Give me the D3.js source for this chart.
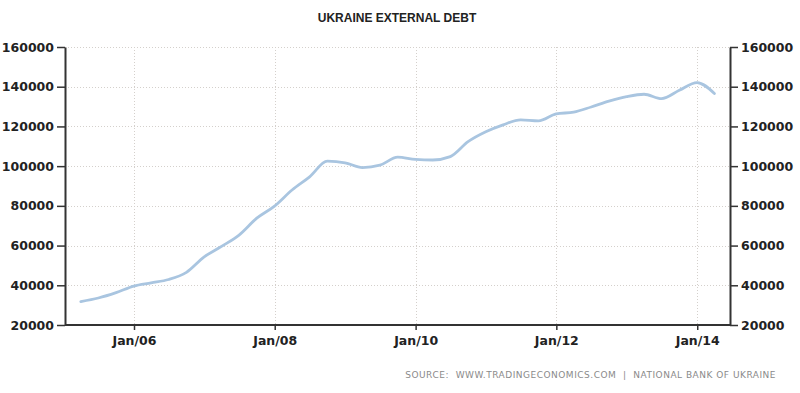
<!DOCTYPE html>
<html>
<head>
<meta charset="utf-8">
<script src="https://cdn.jsdelivr.net/npm/d3@7"></script>
<style>
  html, body { margin: 0; padding: 0; background: #fff; }
  svg { display: block; }
</style>
</head>
<body>
<div id="chart"></div>
<script>
// Ukraine external debt, USD million, quarter ends
const quarters = [
  '2005-03-31', '2005-06-30', '2005-09-30', '2005-12-31',
  '2006-03-31', '2006-06-30', '2006-09-30', '2006-12-31',
  '2007-03-31', '2007-06-30', '2007-09-30', '2007-12-31',
  '2008-03-31', '2008-06-30', '2008-09-30', '2008-12-31',
  '2009-03-31', '2009-06-30', '2009-09-30', '2009-12-31',
  '2010-03-31', '2010-06-30', '2010-09-30', '2010-12-31',
  '2011-03-31', '2011-06-30', '2011-09-30', '2011-12-31',
  '2012-03-31', '2012-06-30', '2012-09-30', '2012-12-31',
  '2013-03-31', '2013-06-30', '2013-09-30', '2013-12-31',
  '2014-03-31'
];
const debt = [
  31800, 33600, 36300, 39600,
  41200, 42900, 46500, 54300,
  59600, 65300, 73800, 79900,
  88000, 94600, 102500, 101700,
  99300, 100500, 104500, 103400,
  103100, 104800, 112300, 117300,
  120800, 123300, 122800, 126300,
  127200, 129800, 132700, 135000,
  136200, 134000, 138200, 142100,
  136600
];
const yTicks = [20000, 40000, 60000, 80000, 100000, 120000, 140000, 160000];
const xTickYears = [2006, 2008, 2010, 2012, 2014];

const title = 'UKRAINE EXTERNAL DEBT';
const source = 'SOURCE:  WWW.TRADINGECONOMICS.COM  |  NATIONAL BANK OF UKRAINE';

const W = 800, H = 393;
const m = { top: 47, right: 70, bottom: 68, left: 65 };
const parse = d3.timeParse('%Y-%m-%d');
const data = quarters.map((q, i) => ({ date: parse(q), value: debt[i] }));

const svg = d3.select('#chart').append('svg').attr('width', W).attr('height', H);

const x = d3.scaleTime()
  .domain([new Date(2005, 0, 8), new Date(2014, 5, 20)])
  .range([m.left, W - m.right]);
const y = d3.scaleLinear().domain([20000, 160000]).range([H - m.bottom, m.top]);

const xTicks = xTickYears.map((yr) => new Date(yr, 0, 1));
const font = 'Tahoma, "DejaVu Sans", sans-serif';

// 网格（点线）
const grid = svg.append('g').attr('stroke', '#d4d0cc').attr('stroke-width', 1).attr('stroke-dasharray', '1,2');
grid.selectAll('line.h').data(yTicks.slice(1)).enter().append('line')
  .attr('x1', m.left).attr('x2', W - m.right)
  .attr('y1', (d) => Math.round(y(d)) + 0.5).attr('y2', (d) => Math.round(y(d)) + 0.5);
grid.selectAll('line.v').data(xTicks).enter().append('line')
  .attr('x1', (d) => Math.round(x(d)) + 0.5).attr('x2', (d) => Math.round(x(d)) + 0.5)
  .attr('y1', m.top).attr('y2', H - m.bottom);

// 折线
const line = d3.line().x((d) => x(d.date)).y((d) => y(d.value)).curve(d3.curveMonotoneX);
svg.append('path').datum(data)
  .attr('fill', 'none').attr('stroke', '#a9c5e0').attr('stroke-width', 2.8)
  .attr('stroke-linejoin', 'round').attr('stroke-linecap', 'round')
  .attr('d', line);

// 坐标轴
function styleAxis(g) {
  g.select('.domain').attr('stroke', '#333').attr('stroke-width', 2);
  g.selectAll('.tick line').attr('stroke', '#333').attr('stroke-width', 1.5);
  g.selectAll('.tick text').attr('fill', '#222').attr('font-family', font)
    .attr('font-size', 12.5).attr('font-weight', 'bold');
}
svg.append('g').attr('transform', `translate(${m.left},0)`)
  .call(d3.axisLeft(y).tickValues(yTicks).tickFormat(d3.format('d')).tickSize(8).tickSizeOuter(0).tickPadding(3))
  .call(styleAxis);
svg.append('g').attr('transform', `translate(${W - m.right},0)`)
  .call(d3.axisRight(y).tickValues(yTicks).tickFormat(d3.format('d')).tickSize(8).tickSizeOuter(0).tickPadding(3))
  .call(styleAxis);
svg.append('g').attr('transform', `translate(0,${H - m.bottom})`)
  .call(d3.axisBottom(x).tickValues(xTicks).tickFormat(d3.timeFormat('Jan/%y')).tickSize(5).tickSizeOuter(0).tickPadding(6))
  .call(styleAxis)
  .call((g) => g.select('.domain').attr('d', `M${m.left},0H${W - m.right}`));

// 标题与来源
svg.append('text').attr('x', 397).attr('y', 22).attr('text-anchor', 'middle')
  .attr('font-family', '"Liberation Sans", Arial, sans-serif').attr('font-size', 12).attr('font-weight', 'bold').attr('fill', '#222')
  .text(title);
svg.append('text').attr('x', 776).attr('y', 378).attr('text-anchor', 'end')
  .attr('font-family', font).attr('font-size', 9).attr('letter-spacing', 0.5).attr('fill', '#8a8a8a')
  .style('white-space', 'pre').attr('xml:space', 'preserve')
  .text(source);
</script>
</body>
</html>
